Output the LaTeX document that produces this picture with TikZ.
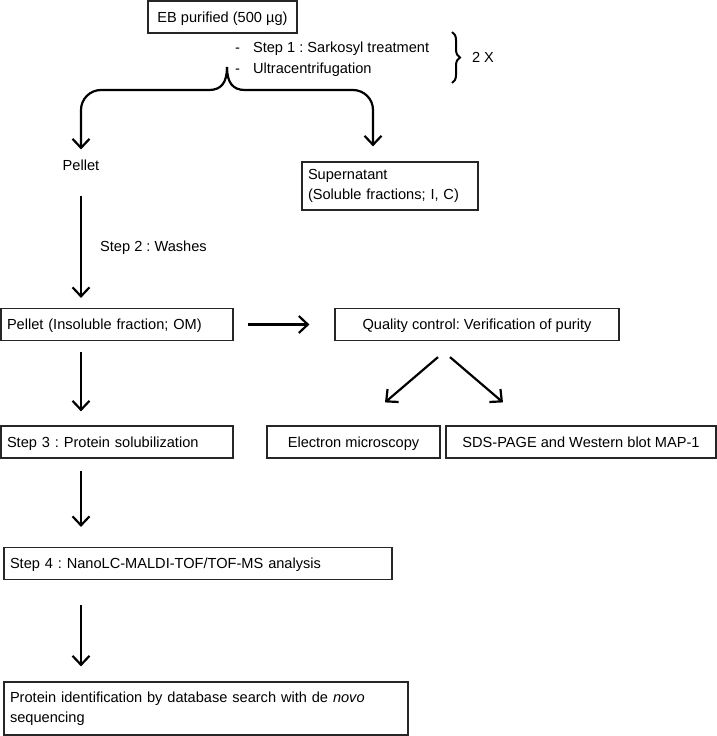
\documentclass[tikz,border=0pt]{standalone}
\usepackage{fontspec}
\setmainfont{Liberation Sans}
\usepackage{tikz}
\usetikzlibrary{arrows.meta,positioning,calc,decorations.pathreplacing}
\newcommand{\flowfont}{\fontsize{14.6}{20}\selectfont}
\frenchspacing
\tikzset{
    block/.style={
        rectangle,
        draw=black!85,
        line width=1.2pt,
        align=center,
        inner xsep=6pt,
        inner ysep=0pt,
        minimum height=32pt,
        font=\flowfont
    },
    leftblock/.style={block, align=left},
    oneline/.style={text height=12pt, text depth=2pt},
    label/.style={inner sep=0pt, font=\flowfont},
    flow/.style={
        -{Straight Barb[length=9pt,width=17pt]},
        line width=2.2pt
    }
}

\begin{document}
\begin{tikzpicture}[x=1pt, y=-1pt]
    \useasboundingbox (0,0) rectangle (717,736);

    \node (eb) [block, oneline, minimum width=149pt] at (222.5,17) {EB purified (500 µg)};
    \node (step1) [label, anchor=west, align=left] at (235,59.5)
        {-\hspace{13pt}Step 1 : Sarkosyl treatment\\[1pt]-\hspace{13pt}Ultracentrifugation};
    \draw [line width=2pt, decorate, decoration={brace, amplitude=8pt}] (452,32) -- (452,83);
    \node (twice) [label] at (483,57) {2 X};

    \coordinate (split) at (227,67);
    \node (pellet) [label] at (81,165) {Pellet};
    \node (super) [leftblock, text width=164pt, minimum height=48pt] at (390,186)
        {Supernatant\\(Soluble fractions; I, C)};

    % split after ultracentrifugation
    \draw [flow, shorten >=10pt] (split) .. controls +(0,16) and +(12,0) .. ++(-18,23)
        [rounded corners=20pt] -| (pellet.north);
    \draw [flow, shorten >=15pt] (split) .. controls +(0,16) and +(-12,0) .. ++(18,23)
        [rounded corners=20pt] -| ($(super.north)+(-17,0)$);

    \node (wash) [label, anchor=west] at (100,248) {Step 2 : Washes};
    \node (insol) [leftblock, oneline, text width=220pt] at (117,324.5) {Pellet (Insoluble fraction; OM)};
    \node (quality) [block, oneline, minimum width=284pt] at (477,324.5) {Quality control: Verification of purity};
    \node (electron) [block, oneline, minimum width=173pt] at (353.5,442) {Electron microscopy};
    \node (sds) [block, oneline, minimum width=270pt] at (581,442) {SDS-PAGE and Western blot MAP-1};
    \node (step3) [leftblock, oneline, text width=220pt] at (117,442) {Step 3 : Protein solubilization};
    \node (step4) [leftblock, oneline, text width=376pt] at (198,563.5) {Step 4 : NanoLC-MALDI-TOF/TOF-MS analysis};
    \node (ident) [leftblock, text width=392pt, minimum height=53pt] at (206,708.5)
        {Protein identification by database search with de \textit{novo}\\sequencing};

    \draw [flow, shorten <=25pt, shorten >=10pt] (pellet.south) -- (pellet.south |- insol.north);
    \draw [flow, shorten <=14pt, shorten >=25pt] (insol) -- (quality);
    \draw [flow] ($(quality.south)+(-39,16)$) -- ($(electron.north)+(31.5,-23)$);
    \draw [flow] ($(quality.south)+(-27,16)$) -- ($(sds.north)+(-78,-23)$);
    \draw [flow, shorten <=11pt, shorten >=14pt] (insol.south -| pellet) -- (step3.north -| pellet);
    \draw [flow, shorten <=12pt, shorten >=20pt] (step3.south -| pellet) -- (step4.north -| pellet);
    \draw [flow, shorten <=25pt, shorten >=15pt] (step4.south -| pellet) -- (ident.north -| pellet);
\end{tikzpicture}
\end{document}
